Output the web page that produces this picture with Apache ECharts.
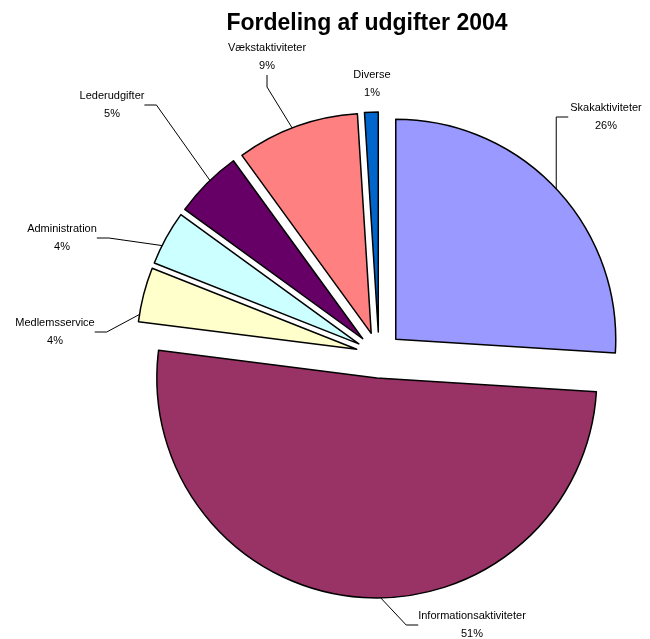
<!DOCTYPE html>
<html>
<head>
<meta charset="utf-8">
<script src="https://cdn.jsdelivr.net/npm/echarts@6/dist/echarts.min.js"></script>
<style>html,body{margin:0;padding:0;background:#fff}#c{width:650px;height:639px}</style>
</head>
<body>
<div id="c"></div>
<script>
const categories = ['Skakaktiviteter','Informationsaktiviteter','Medlemsservice','Administration','Lederudgifter','Vækstaktiviteter','Diverse'];
const values = [26, 51, 4, 4, 5, 9, 1];
const colors = ['#9999FF','#993366','#FFFFCC','#CCFFFF','#660066','#FF8080','#0066CC'];
const labelPos = [[606,117],[472,625],[55,332],[62,238],[112,105],[267,57],[372,84]];

const FONT = 'Liberation Sans, Arial';
const chart = echarts.init(document.getElementById('c'));
chart.setOption({
  animation: false,
  backgroundColor: '#fff',
  title: {
    text: 'Fordeling af udgifter 2004',
    left: 362, top: 7, textAlign: 'center',
    textStyle: {fontFamily: FONT, fontSize: 23, fontWeight: 'bold', color: '#000'}
  },
  series: [{
    // exploded slices
    type: 'pie',
    z: 3,
    center: [379, 355],
    radius: 220,
    startAngle: 90,
    clockwise: true,
    selectedMode: 'multiple',
    selectedOffset: 23,
    itemStyle: {borderColor: '#000', borderWidth: 1.5},
    emphasis: {disabled: true},
    label: {show: false},
    labelLine: {show: false},
    data: categories.map((n, i) => ({name: n, value: values[i], selected: true, itemStyle: {color: colors[i]}}))
  }, {
    // labels with leader lines
    type: 'pie',
    z: 1,
    silent: true,
    center: [379, 355],
    radius: 220,
    startAngle: 90,
    clockwise: true,
    selectedMode: false,
    avoidLabelOverlap: false,
    itemStyle: {color: 'rgba(0,0,0,0)', borderWidth: 0},
    emphasis: {disabled: true},
    label: {
      show: true, position: 'outside', formatter: '{b}\n{d}%',
      fontFamily: FONT, fontSize: 11, color: '#000', lineHeight: 18, align: 'center'
    },
    labelLine: {show: true, length: 20, length2: 12, lineStyle: {color: '#000', width: 1}},
    labelLayout: function (p) {
      const pos = labelPos[p.dataIndex];
      const out = {x: pos[0], y: pos[1], align: 'center', verticalAlign: 'middle'};
      if (p.dataIndex === 0) {
        const lx = pos[0] - p.labelRect.width / 2 - 2;
        out.labelLinePoints = [[lx - 12, pos[1] + 100], [lx - 12, pos[1]], [lx, pos[1]]];
      }
      return out;
    },
    data: categories.map((n, i) => ({
      name: n, value: values[i],
      labelLine: {show: i !== 6}
    }))
  }]
});
</script>
</body>
</html>
